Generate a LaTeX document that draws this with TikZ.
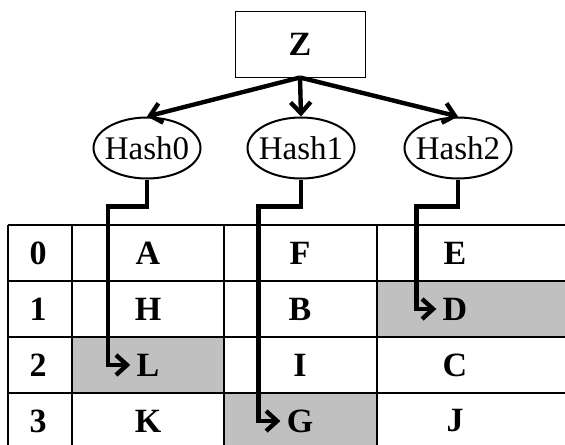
\documentclass[tikz,border=0pt]{standalone}
\usepackage{fontspec}
\setmainfont{Liberation Serif}
\usetikzlibrary{arrows.meta,shapes.geometric}
\definecolor{hitgray}{RGB}{192,192,192}
\begin{document}
\begin{tikzpicture}[
  x=0.5pt,y=-0.5pt,
  keybox/.style={draw,line width=0.5pt,minimum width=65pt,minimum height=32.5pt,font=\fontsize{17}{20}\selectfont\bfseries},
  hashfn/.style={draw,ellipse,line width=1pt,minimum width=53.5pt,minimum height=30.5pt,inner xsep=-5pt,inner ysep=0pt,font=\fontsize{16.5}{20}\selectfont},
  entry/.style={inner sep=3pt,font=\fontsize{17}{20}\selectfont\bfseries},
  link/.style={-{Straight Barb[length=5.5pt,width=10pt]},line width=2.2pt},
  tableline/.style={line width=1pt}
]
  \useasboundingbox (0,0) rectangle (565,444);
  \clip (0,0) rectangle (565,444);

  % key and hash functions
  \node[keybox] (z) at (300,44.5) {Z};
  \node[hashfn] (h0) at (147,148) {Hash0};
  \node[hashfn] (h1) at (301,148) {Hash1};
  \node[hashfn] (h2) at (458,148) {Hash2};

  % hit cells
  \fill[hitgray] (72,337) rectangle (224,393);
  \fill[hitgray] (224,393) rectangle (377,449);
  \fill[hitgray] (377,281) rectangle (600,337);

  % table lines
  \foreach \y in {225,281,337,393,449}
    \draw[tableline] (8,\y) -- (600,\y);
  \foreach \x in {8,72,224,377}
    \draw[tableline] (\x,225) -- (\x,449);

  % slot numbers and stored keys
  \foreach \r/\ka/\kb/\kc in {0/A/F/E,1/H/B/D,2/L/I/C,3/K/G/J} {
    \node[entry] (row\r) at (38,253+56*\r) {\r};
    \node[entry] (\ka) at (148,253+56*\r) {\ka};
    \node[entry] (\kb) at (300,253+56*\r) {\kb};
    \node[entry] (\kc) at (455,253+56*\r) {\kc};
  }

  % hashing
  \draw[link] (z.south) -- (h0.north);
  \draw[link] (z.south) -- (h1.north);
  \draw[link] (z.south) -- (h2.north);

  \draw[link] (h0.south) -- ++(0,27) -| ([xshift=-11pt]L.west) -- (L.west);
  \draw[link] (h1.south) -- ++(0,27) -| ([xshift=-11pt]G.west) -- (G.west);
  \draw[link] (h2.south) -- ++(0,27) -| ([xshift=-10pt]D.west) -- (D.west);
\end{tikzpicture}
\end{document}
